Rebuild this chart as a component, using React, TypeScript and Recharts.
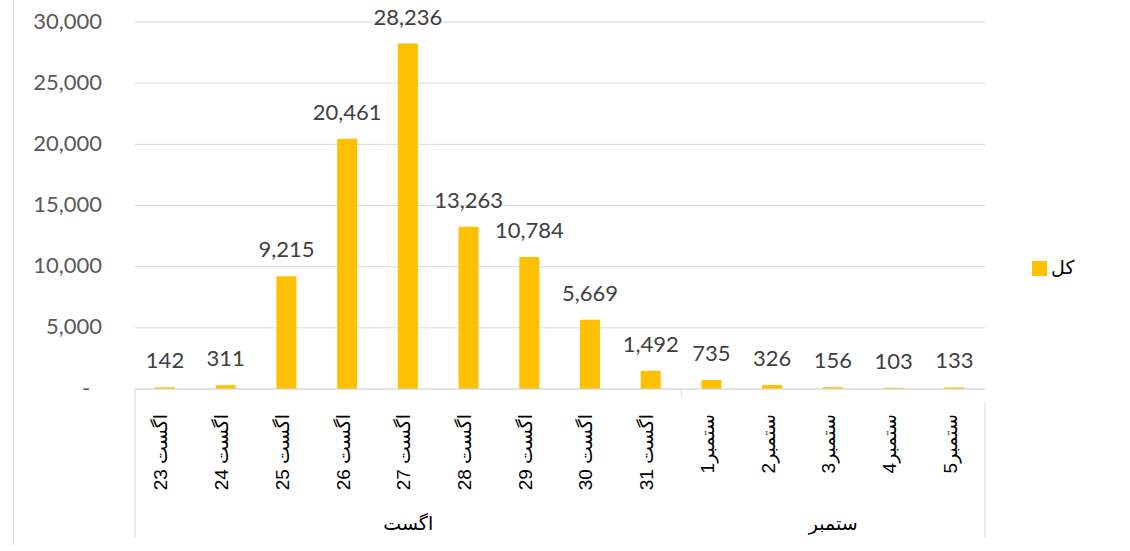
import { Bar, BarChart, CartesianGrid, LabelList, XAxis, YAxis } from 'recharts';

// daily totals, 23 Aug .. 5 Sep
const categories = [
    'اگست 23', 'اگست 24', 'اگست 25', 'اگست 26', 'اگست 27', 'اگست 28', 'اگست 29',
    'اگست 30', 'اگست 31', 'ستمبر1', 'ستمبر2', 'ستمبر3', 'ستمبر4', 'ستمبر5',
];
const months = [
    'اگست', 'اگست', 'اگست', 'اگست', 'اگست', 'اگست', 'اگست', 'اگست', 'اگست',
    'ستمبر', 'ستمبر', 'ستمبر', 'ستمبر', 'ستمبر',
];
const totals = [142, 311, 9215, 20461, 28236, 13263, 10784, 5669, 1492, 735, 326, 156, 103, 133];
const yTicks = [0, 5000, 10000, 15000, 20000, 25000, 30000];
const seriesName = 'کل';

const data = categories.map((label, i) => ({ label, month: months[i], total: totals[i] }));

const W = 1130;
const H = 551;
const M = { top: 22, right: 145, left: 0, bottom: 0 };
const Y_W = 135;
const X_H = 162;
const PLOT_W = W - M.left - M.right - Y_W;
const BAND = PLOT_W / categories.length;

const GOLD = '#ffc000';
const GRID = '#d9d9d9';
const NUM_FONT = 'Lato, "Open Sans", sans-serif';
const CAT_FONT = '"Liberation Sans", "DejaVu Sans", Arial, sans-serif';

// first/last index of each month group
const groups = months.reduce<{ name: string; first: number; last: number }[]>((acc, m, i) => {
    const g = acc[acc.length - 1];
    if (g && g.name === m) g.last = i;
    else acc.push({ name: m, first: i, last: i });
    return acc;
}, []);

function XTick(props: any) {
    const { x, y, payload } = props;
    const i: number = payload.index;
    const tx = x + 2;
    const ty = y + 25;
    const bottom = 538;
    const parts: any[] = [];

    parts.push(
        <text
            key="t"
            x={tx}
            y={ty}
            transform={`rotate(-90, ${tx}, ${ty})`}
            textAnchor="end"
            fontSize={19}
            fontFamily={CAT_FONT}
            fill="#000"
        >
            {'\u202B' + payload.value + '\u202C'}
        </text>,
    );

    groups.forEach((g, gi) => {
        const mid = (g.first + g.last) / 2;
        if (i === Math.floor(mid)) {
            parts.push(
                <text
                    key={'g' + gi}
                    x={x + (mid - i) * BAND}
                    y={y + 141}
                    textAnchor="middle"
                    fontSize={19}
                    fontFamily={CAT_FONT}
                    fill="#000"
                >
                    {g.name}
                </text>,
            );
        }
        if (i === g.first) {
            const lx = x - BAND / 2;
            parts.push(
                <line key={'s' + gi} x1={lx} x2={lx} y1={y} y2={gi === 0 ? bottom : y + 8} stroke={GRID} />,
            );
        }
        if (gi === groups.length - 1 && i === g.last) {
            const rx = x + BAND / 2;
            parts.push(<line key="end" x1={rx} x2={rx} y1={y + 14} y2={bottom} stroke={GRID} />);
        }
    });

    return <g>{parts}</g>;
}

function YTick(props: any) {
    const { x, y, payload } = props;
    if (payload.value === 0) {
        return (
            <text x={x - 16} y={y} dy="0.3em" textAnchor="middle" fontSize={22} fontFamily={NUM_FONT} fill="#595959">
                -
            </text>
        );
    }
    return (
        <text x={x} y={y} dy="0.3em" textAnchor="end" fontSize={22} fontFamily={NUM_FONT} fill="#595959">
            {Number(payload.value).toLocaleString('en-US')}
        </text>
    );
}

export default function App() {
    return (
        <div style={{ position: 'absolute', left: 0, top: 0, width: W, height: H, background: '#fff' }}>
            <div style={{ position: 'absolute', left: 13, top: 0, width: 0, height: 545, borderLeft: '1px solid ' + GRID }} />
            <div
                style={{
                    position: 'absolute', left: 1032, top: 257, display: 'flex', alignItems: 'center',
                    fontFamily: CAT_FONT, fontSize: 19, color: '#000', lineHeight: '22px',
                }}
            >
                <span style={{ display: 'inline-block', width: 15, height: 15, background: GOLD, marginRight: 4 }} />
                <span>{seriesName}</span>
            </div>
            <BarChart width={W} height={H} data={data} margin={M} barSize={20}>
                <CartesianGrid stroke={GRID} vertical={false} />
                <XAxis
                    dataKey="label"
                    height={X_H}
                    interval={0}
                    tickLine={false}
                    tickSize={0}
                    tickMargin={0}
                    axisLine={{ stroke: GRID }}
                    tick={<XTick />}
                />
                <YAxis
                    width={Y_W}
                    domain={[0, 30000]}
                    ticks={yTicks}
                    interval={0}
                    axisLine={false}
                    tickLine={false}
                    tickSize={0}
                    tickMargin={33}
                    tick={<YTick />}
                />
                <Bar dataKey="total" name={seriesName} fill={GOLD} isAnimationActive={false}>
                    <LabelList
                        dataKey="total"
                        position="top"
                        offset={19}
                        fill="#404040"
                        fontSize={22}
                        fontFamily={NUM_FONT}
                        formatter={(v: any) => Number(v).toLocaleString('en-US')}
                    />
                </Bar>
            </BarChart>
        </div>
    );
}
